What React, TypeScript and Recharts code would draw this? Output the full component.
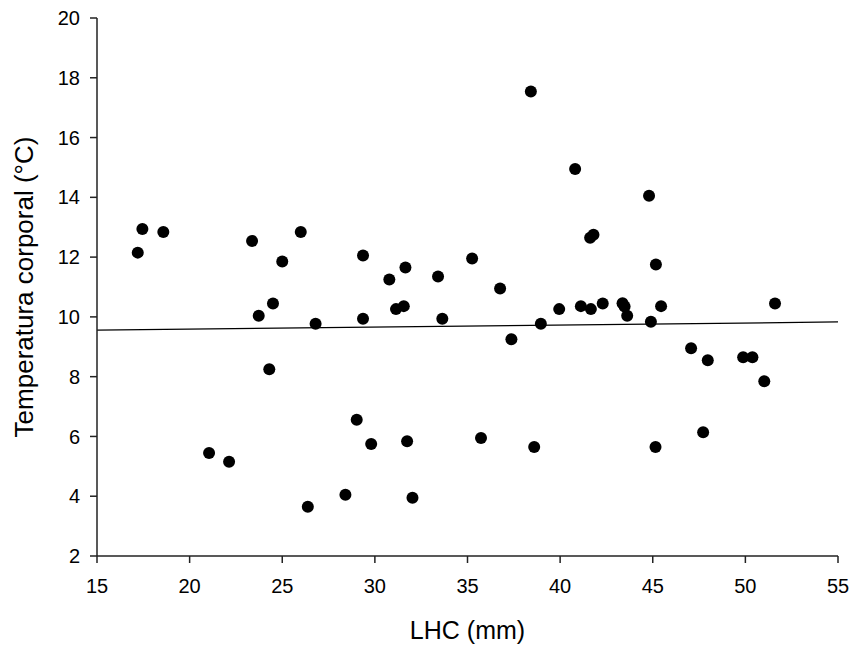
import {
  ScatterChart,
  Scatter,
  XAxis,
  YAxis,
  ReferenceLine,
} from 'recharts';

// LHC (mm) for each animal
const lhc = [
  17.2, 17.45, 18.58, 23.37, 25.0, 26.0, 29.36, 30.78, 31.65, 33.41,
  23.73, 24.5, 26.8, 29.36, 31.14, 31.56, 33.64, 38.42, 40.81, 44.8,
  41.62, 41.8, 45.17, 35.25, 36.76, 39.95, 41.12, 41.66, 42.3, 43.37,
  43.48, 43.62, 45.45, 51.6, 38.96, 44.9, 24.3, 29.02, 29.8, 31.74,
  21.05, 22.13, 26.38, 28.41, 32.03, 37.37, 47.07, 47.97, 49.88, 50.38,
  51.02, 35.73, 38.6, 45.15, 47.72,
];

// body temperature (°C), same order
const temp = [
  12.15, 12.94, 12.84, 12.54, 11.85, 12.84, 12.05, 11.25, 11.65, 11.35,
  10.04, 10.45, 9.77, 9.94, 10.26, 10.36, 9.94, 17.54, 14.95, 14.05,
  12.65, 12.75, 11.75, 11.95, 10.95, 10.26, 10.36, 10.26, 10.45, 10.46,
  10.35, 10.04, 10.36, 10.45, 9.77, 9.84, 8.25, 6.56, 5.75, 5.84,
  5.45, 5.15, 3.65, 4.05, 3.95, 9.25, 8.95, 8.55, 8.65, 8.65,
  7.85, 5.95, 5.65, 5.65, 6.14,
];

// regression line end points
const fitLine = [
  { x: 15, y: 9.56 },
  { x: 55, y: 9.83 },
];

const xTicks = [15, 20, 25, 30, 35, 40, 45, 50, 55];
const yTicks = [2, 4, 6, 8, 10, 12, 14, 16, 18, 20];

const points = lhc.map((x, i) => ({ x, y: temp[i] }));

const font = '"Liberation Sans", Arial, sans-serif';
const axisColor = '#222';

function Dot(props: any) {
  return <circle cx={props.cx} cy={props.cy} r={6} fill="#000" />;
}

export default function App() {
  return (
    <div style={{ position: 'absolute', left: 0, top: 0, background: '#fff' }}>
      <ScatterChart
        width={853}
        height={650}
        margin={{ top: 18, right: 15, bottom: 6, left: 0 }}
        style={{ fontFamily: font }}
      >
        <XAxis
          type="number"
          dataKey="x"
          domain={[15, 55]}
          ticks={xTicks}
          allowDataOverflow
          height={88}
          stroke={axisColor}
          strokeWidth={1.5}
          tickSize={7}
          tickMargin={16}
          tick={{ fill: '#000', fontSize: 20 }}
          label={{
            value: 'LHC (mm)',
            position: 'insideBottom',
            offset: 5,
            fill: '#000',
            fontSize: 25,
          }}
        />
        <YAxis
          type="number"
          dataKey="y"
          domain={[2, 20]}
          ticks={yTicks}
          allowDataOverflow
          width={97}
          stroke={axisColor}
          strokeWidth={1.5}
          tickSize={7}
          tickMargin={10}
          tick={{ fill: '#000', fontSize: 20 }}
          label={{
            value: 'Temperatura corporal (°C)',
            angle: -90,
            position: 'insideLeft',
            offset: 24,
            fill: '#000',
            fontSize: 26,
            style: { textAnchor: 'middle' },
          }}
        />
        <ReferenceLine
          segment={fitLine}
          stroke="#000"
          strokeWidth={1.3}
          ifOverflow="extendDomain"
        />
        <Scatter
          data={points}
          fill="#000"
          shape={<Dot />}
          isAnimationActive={false}
        />
      </ScatterChart>
    </div>
  );
}
